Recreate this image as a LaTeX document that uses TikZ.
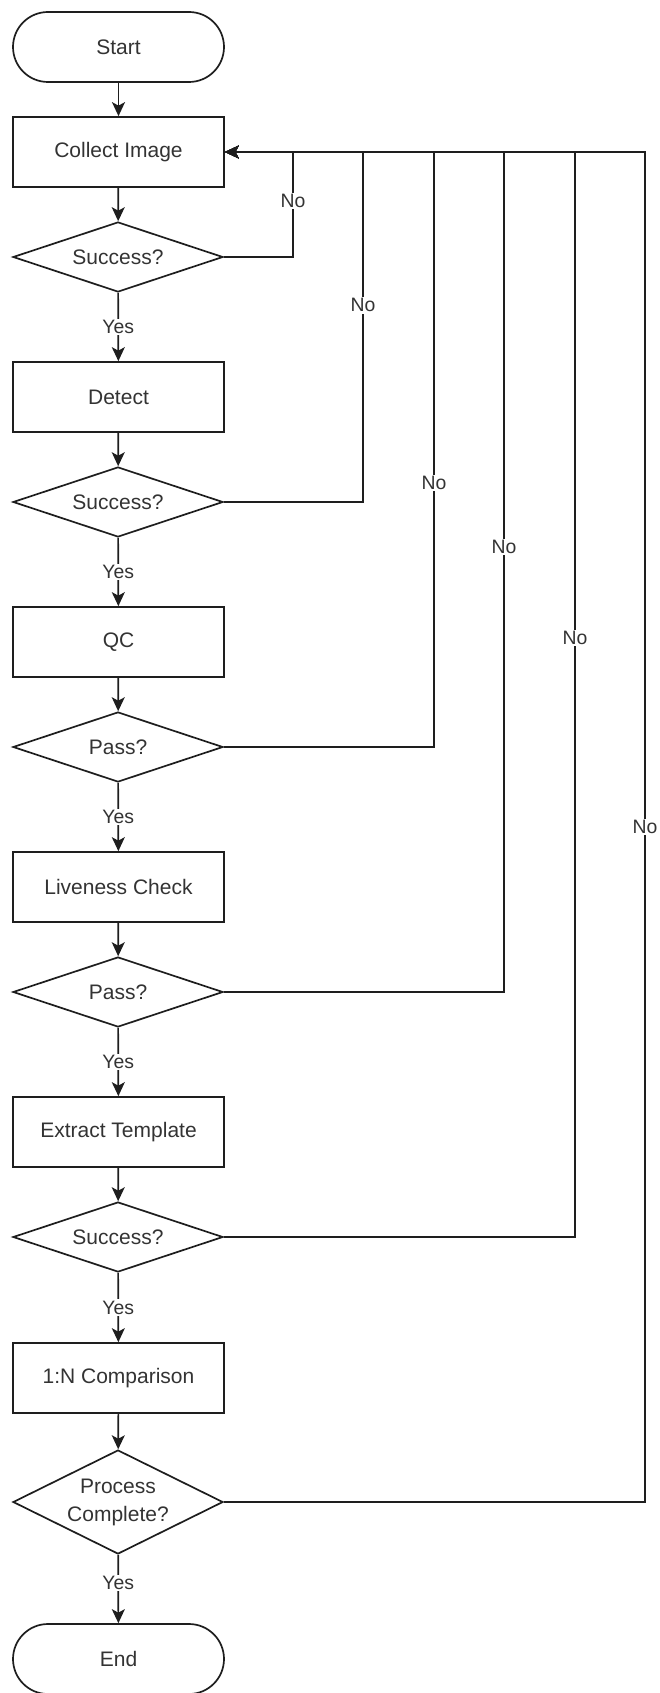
\documentclass[tikz,border=0pt]{standalone}
\usepackage{fontspec}
\setmainfont{Liberation Sans}
\usetikzlibrary{shapes.geometric,arrows.meta}
\definecolor{ln}{RGB}{30,30,30}
\definecolor{tx}{RGB}{51,51,51}
\tikzset{
  base/.style={draw=ln, line width=1.7pt, text=tx, font=\fontsize{21}{28}\selectfont, inner sep=0pt},
  proc/.style={base, rectangle, minimum width=211pt, minimum height=70pt},
  term/.style={base, rectangle, rounded corners=35pt, minimum width=211pt, minimum height=70pt},
  dec/.style={base, diamond, shape aspect=3, minimum width=210pt, minimum height=70pt},
  arr/.style={draw=ln, line width=1.7pt, -{Stealth[length=14pt,width=13pt,inset=3.5pt]}},
  lbl/.style={fill=white, text=tx, font=\fontsize{19.4}{22}\selectfont, inner sep=1.5pt}
}
\begin{document}
\begin{tikzpicture}[x=1pt,y=-1pt]
\useasboundingbox (0,0) rectangle (659,1693);
\node[term] (start) at (118.5,47) {Start};
\node[proc] (collect) at (118.5,152) {Collect Image};
\node[dec] (d1) at (118,257) {Success?};
\node[proc] (detect) at (118.5,397) {Detect};
\node[dec] (d2) at (118,502) {Success?};
\node[proc] (qc) at (118.5,642) {QC};
\node[dec] (d3) at (118,747) {Pass?};
\node[proc] (live) at (118.5,887) {Liveness Check};
\node[dec] (d4) at (118,992) {Pass?};
\node[proc] (extract) at (118.5,1132) {Extract Template};
\node[dec] (d5) at (118,1237) {Success?};
\node[proc] (comp) at (118.5,1378) {1:N Comparison};
\node[dec, shape aspect=2, minimum height=104pt, align=center] (d6) at (118,1502) {Process\\Complete?};
\node[term] (end) at (118.5,1659) {End};

\coordinate (c1) at (293,152);
\coordinate (c2) at (363,152);
\coordinate (c3) at (434,152);
\coordinate (c4) at (504,152);
\coordinate (c5) at (575,152);
\coordinate (c6) at (645,152);

\draw[arr] (start) -- (collect);
\draw[arr] (collect) -- (d1);
\draw[arr] (d1) -- node[lbl] {Yes} (detect);
\draw[arr] (detect) -- (d2);
\draw[arr] (d2) -- node[lbl] {Yes} (qc);
\draw[arr] (qc) -- (d3);
\draw[arr] (d3) -- node[lbl] {Yes} (live);
\draw[arr] (live) -- (d4);
\draw[arr] (d4) -- node[lbl] {Yes} (extract);
\draw[arr] (extract) -- (d5);
\draw[arr] (d5) -- node[lbl] {Yes} (comp);
\draw[arr] (comp) -- (d6);
\draw[arr] (d6) -- node[lbl, pos=0.41] {Yes} (end);

\draw[arr] (d6.east) -| node[lbl, pos=0.75] {No} (c6) -- (collect.east);
\draw[arr] (d5.east) -| node[lbl, pos=0.776] {No} (c5) -- (collect.east);
\draw[arr] (d4.east) -| node[lbl, pos=0.765] {No} (c4) -- (collect.east);
\draw[arr] (d3.east) -| node[lbl, pos=0.722] {No} (c3) -- (collect.east);
\draw[arr] (d2.east) -| node[lbl, pos=0.781] {No} (c2) -- (collect.east);
\draw[arr] (d1.east) -| node[lbl, pos=0.767] {No} (c1) -- (collect.east);
\end{tikzpicture}
\end{document}
